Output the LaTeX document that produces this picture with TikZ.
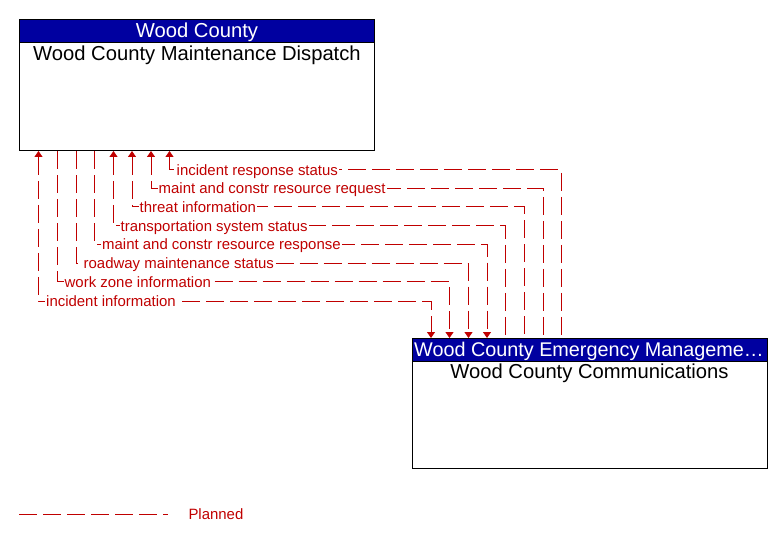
\documentclass[tikz,border=0pt]{standalone}
\usepackage{fontspec}
\setmainfont{Liberation Sans}
\usetikzlibrary{arrows.meta,calc}
\definecolor{hdrblue}{RGB}{0,0,160}
\definecolor{planred}{RGB}{192,0,0}
\begin{document}
\begin{tikzpicture}[x=1bp,y=-1bp,
  box/.style={draw=black, line width=1bp, fill=white, inner sep=0pt, anchor=north west, minimum width=355bp},
  hdr/.style={draw=black, line width=1bp, fill=hdrblue, inner sep=0pt, anchor=north west, minimum width=355bp, minimum height=23bp},
  ttl/.style={font=\fontsize{20.2bp}{23bp}\selectfont, inner sep=0pt, anchor=base},
  hdrtxt/.style={ttl, text=white},
  flow/.style={draw=planred, line width=1bp, dash pattern=on 18bp off 6bp},
  tipf/.tip={Triangle[width=8bp,length=6bp]},
  lbl/.style={font=\fontsize{14.95bp}{17bp}\selectfont, text=planred, fill=white, inner xsep=1bp, inner ysep=0pt, anchor=base west}
]
\useasboundingbox (0,0) rectangle (783,543);
% boxes
\node[box, minimum height=131bp] (disp) at (19,19) {};
\node[hdr] (disph) at (19,19) {};
\node[hdrtxt] (dispht) at (197,37.7) {Wood County};
\node[ttl] (dispt) at (197,60.7) {Wood County Maintenance Dispatch};
\node[box, minimum height=130bp] (ems) at (412,338) {};
\node[hdr] (emsh) at (412,338) {};
\node[hdrtxt, anchor=base west, font=\fontsize{19.8bp}{23bp}\selectfont] (emsht) at (414,356) {Wood County Emergency Manageme\ldots};
\node[ttl] (emst) at (589.5,378.3) {Wood County Communications};
% flows
\draw[flow, tipf-] ($(disp.south west)+(150.5,0)$) |- (561.5,170) -- ($(ems.north west)+(149.5,0)$);
\draw[flow, tipf-] ($(disp.south west)+(132,0)$) |- (543,188.5) -- ($(ems.north west)+(131,0)$);
\draw[flow, tipf-] ($(disp.south west)+(113,0)$) |- (524.5,207) -- ($(ems.north west)+(112.5,0)$);
\draw[flow, tipf-] ($(disp.south west)+(94.5,0)$) |- (505.5,226) -- ($(ems.north west)+(93.5,0)$);
\draw[flow, -tipf] ($(disp.south west)+(75.5,0)$) |- (487,244.5) -- ($(ems.north west)+(75,0)$);
\draw[flow, -tipf] ($(disp.south west)+(57,0)$) |- (468.5,263.5) -- ($(ems.north west)+(56.5,0)$);
\draw[flow, -tipf] ($(disp.south west)+(38.5,0)$) |- (449.5,282) -- ($(ems.north west)+(37.5,0)$);
\draw[flow, tipf-tipf] ($(disp.south west)+(19.5,0)$) |- (431,301) -- ($(ems.north west)+(19,0)$);
% labels
\node[lbl] (l1) at (175.5,175.3) {incident response status};
\node[lbl] (l2) at (157.5,193.8) {maint and constr resource request};
\node[lbl] (l3) at (138.5,212.3) {threat information};
\node[lbl] (l4) at (119.5,231.3) {transportation system status};
\node[lbl] (l5) at (101,249.8) {maint and constr resource response};
\node[lbl] (l6) at (82.5,268.8) {roadway maintenance status};
\node[lbl] (l7) at (63.5,287.3) {work zone information};
\node[lbl] (l8) at (45,306.3) {incident information};
% legend
\coordinate (lga) at (19,514);
\coordinate (lgb) at (168,514);
\draw[flow] (lga) -- (lgb);
\node[lbl, fill=none, inner xsep=0pt] (lgt) at (188.3,519.3) {Planned};
\end{tikzpicture}
\end{document}
